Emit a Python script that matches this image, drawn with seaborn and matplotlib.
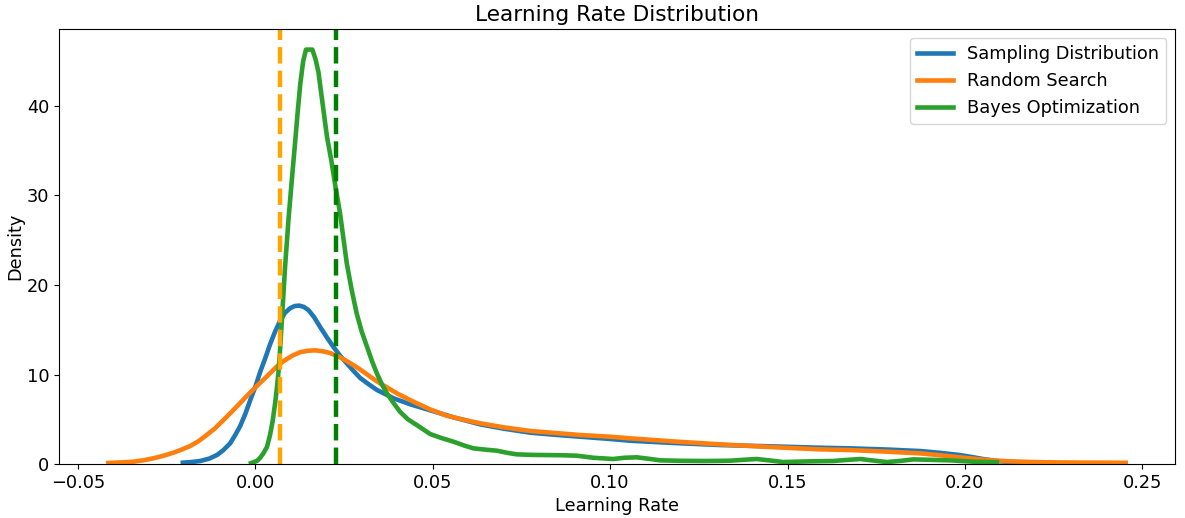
import matplotlib
matplotlib.use("Agg")
import matplotlib.pyplot as plt
import numpy as np
import pandas as pd
import seaborn as sns

# curves (learning rate vs density)
sampling_x = [-0.0204, -0.0180, -0.0155, -0.0130, -0.0108, -0.0090, -0.0071, -0.0057, -0.0043, -0.0028,
              -0.0014, 0.0000, 0.0014, 0.0028, 0.0042, 0.0056, 0.0070, 0.0084, 0.0098, 0.0111,
              0.0124, 0.0137, 0.0150, 0.0166, 0.0183, 0.0201, 0.0220, 0.0239, 0.0258, 0.0277,
              0.0296, 0.0320, 0.0343, 0.0367, 0.0390, 0.0437, 0.0493, 0.0560, 0.0634, 0.0700,
              0.0775, 0.0850, 0.0916, 0.1000, 0.1056, 0.1180, 0.1310, 0.1450, 0.1592, 0.1677,
              0.1780, 0.1874, 0.1930, 0.1986, 0.2020, 0.2052, 0.2099, 0.2160, 0.2220]
sampling_y = [0.15, 0.22, 0.34, 0.6, 1.0, 1.55, 2.3, 3.2, 4.2, 5.6,
              7.15, 8.6, 10.3, 11.8, 13.4, 14.8, 16.0, 16.9, 17.4, 17.65,
              17.7, 17.55, 17.2, 16.4, 15.3, 14.2, 13.1, 12.1, 11.25, 10.4,
              9.6, 8.9, 8.27, 7.8, 7.34, 6.67, 6.0, 5.2, 4.43, 3.95,
              3.5, 3.25, 3.05, 2.8, 2.6, 2.35, 2.12, 1.98, 1.82, 1.75,
              1.62, 1.45, 1.25, 1.0, 0.78, 0.55, 0.3, 0.15, 0.1]

random_x = [-0.0414, -0.0380, -0.0343, -0.0315, -0.0287, -0.0259, -0.0231, -0.0208, -0.0184, -0.0160,
            -0.0137, -0.0113, -0.0090, -0.0066, -0.0043, -0.0020, 0.0004, 0.0033, 0.0061, 0.0080,
            0.0104, 0.0127, 0.0148, 0.0169, 0.0190, 0.0211, 0.0235, 0.0258, 0.0281, 0.0305,
            0.0328, 0.0352, 0.0376, 0.0399, 0.0446, 0.0493, 0.0540, 0.0587, 0.0634, 0.0700,
            0.0775, 0.0850, 0.0916, 0.1000, 0.1056, 0.1180, 0.1310, 0.1450, 0.1592, 0.1677,
            0.1780, 0.1874, 0.1930, 0.1986, 0.2030, 0.2071, 0.2130, 0.2193, 0.2260, 0.2334,
            0.2400, 0.2453]
random_y = [0.12, 0.18, 0.26, 0.42, 0.64, 0.92, 1.26, 1.6, 2.0, 2.55,
            3.24, 4.0, 4.9, 5.85, 6.8, 7.75, 8.7, 9.8, 10.9, 11.5,
            12.1, 12.5, 12.65, 12.7, 12.6, 12.4, 12.0, 11.5, 10.95, 10.3,
            9.65, 9.0, 8.45, 7.9, 6.96, 6.1, 5.4, 4.95, 4.55, 4.1,
            3.69, 3.45, 3.24, 3.05, 2.87, 2.52, 2.2, 1.9, 1.64, 1.56,
            1.38, 1.19, 0.98, 0.75, 0.57, 0.41, 0.3, 0.22, 0.18, 0.16,
            0.15, 0.14]

bayes_x = [-0.0012, 0.0005, 0.0014, 0.0023, 0.0033, 0.0042, 0.0049, 0.0056, 0.0061, 0.0066,
           0.0070, 0.0075, 0.0084, 0.0094, 0.0103, 0.0112, 0.0120, 0.0127, 0.0135, 0.0143,
           0.0161, 0.0170, 0.0178, 0.0190, 0.0202, 0.0214, 0.0226, 0.0239, 0.0258, 0.0272,
           0.0286, 0.0300, 0.0315, 0.0329, 0.0343, 0.0357, 0.0371, 0.0390, 0.0408, 0.0430,
           0.0455, 0.0493, 0.0525, 0.0559, 0.0590, 0.0615, 0.0650, 0.0681, 0.0710, 0.0737,
           0.0780, 0.0822, 0.0865, 0.0906, 0.0953, 0.1009, 0.1040, 0.1075, 0.1110, 0.1141,
           0.1200, 0.1263, 0.1300, 0.1338, 0.1375, 0.1413, 0.1450, 0.1488, 0.1525, 0.1564,
           0.1629, 0.1665, 0.1705, 0.1740, 0.1780, 0.1820, 0.1855, 0.1910, 0.1958, 0.2024,
           0.2090]
bayes_y = [0.1, 0.35, 0.7, 1.2, 1.9, 3.3, 4.8, 6.8, 8.5, 10.5,
           12.8, 16.1, 22.0, 27.5, 31.7, 35.8, 39.5, 42.5, 45.0, 46.3,
           46.3, 45.2, 43.8, 40.2, 36.6, 34.0, 31.0, 28.0, 22.4, 19.4,
           16.8, 14.8, 13.1, 11.5, 10.1, 8.9, 7.9, 6.8, 5.84, 5.0,
           4.36, 3.35, 2.9, 2.49, 2.05, 1.75, 1.6, 1.49, 1.25, 1.08,
           1.02, 1.0, 0.98, 0.93, 0.7, 0.56, 0.7, 0.75, 0.58, 0.41,
           0.36, 0.34, 0.35, 0.37, 0.47, 0.56, 0.4, 0.22, 0.26, 0.3,
           0.34, 0.45, 0.56, 0.4, 0.22, 0.36, 0.52, 0.46, 0.41, 0.26,
           0.19]

labels = ["Sampling Distribution", "Random Search", "Bayes Optimization"]
random_best = 0.0069
bayes_best = 0.0228

df = pd.concat([
    pd.DataFrame({"lr": sampling_x, "density": sampling_y, "curve": labels[0]}),
    pd.DataFrame({"lr": random_x, "density": random_y, "curve": labels[1]}),
    pd.DataFrame({"lr": bayes_x, "density": bayes_y, "curve": labels[2]}),
])

fig = plt.figure(figsize=(11.85, 5.18), dpi=100)
ax = fig.add_axes([0.0498, 0.1042, 0.9418, 0.8398])

sns.lineplot(data=df, x="lr", y="density", hue="curve", hue_order=labels,
             palette=["#1f77b4", "#ff7f0e", "#2ca02c"], estimator=None,
             linewidth=3.3, ax=ax)
ax.axvline(random_best, color="orange", linestyle="--", linewidth=3.2)
ax.axvline(bayes_best, color="green", linestyle="--", linewidth=3.2)

ax.set_xlim(-0.0553, 0.2592)
ax.set_ylim(0, 48.6)
ax.set_xticks([-0.05, 0.0, 0.05, 0.10, 0.15, 0.20, 0.25])
ax.set_yticks([0, 10, 20, 30, 40])
ax.tick_params(labelsize=12.8)
ax.set_xlabel("Learning Rate", fontsize=12.8)
ax.set_ylabel("Density", fontsize=12.8, labelpad=2)
ax.set_title("Learning Rate Distribution", fontsize=15.6)

handles, _ = ax.get_legend_handles_labels()
leg = ax.legend(handles[:3], labels, loc="upper right", fontsize=12.8)
for h in leg.get_lines():
    h.set_linewidth(3.3)

fig.savefig("out.png", dpi=100)
